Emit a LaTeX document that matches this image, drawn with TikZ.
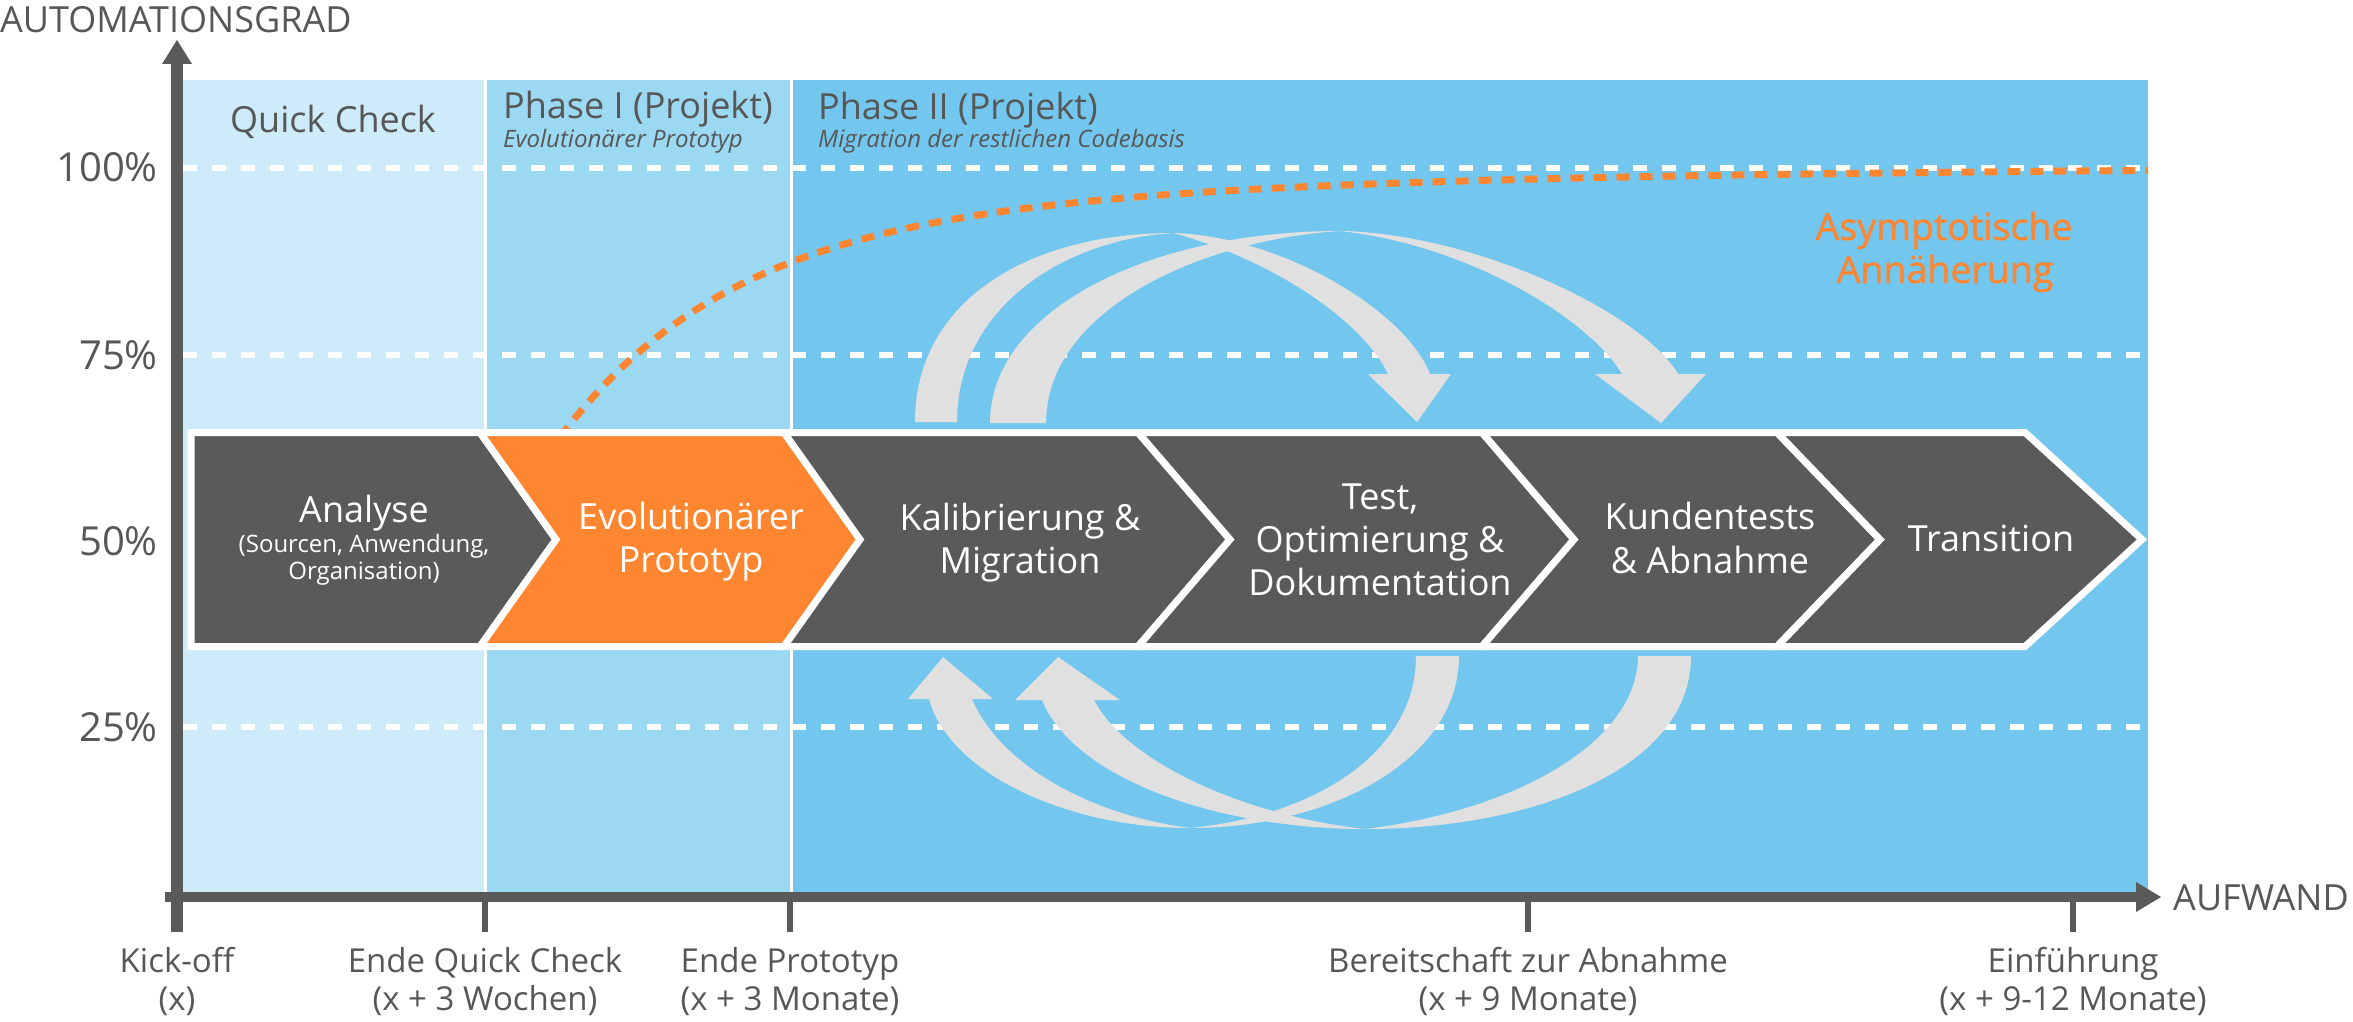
\documentclass[tikz,border=0pt]{standalone}
\usepackage{fontspec}
\setmainfont{Open Sans}
\newfontfamily\orfont[FakeBold=1.2]{Open Sans}
\definecolor{qcbg}{HTML}{CDEBF8}
\definecolor{pibg}{HTML}{9BD8F2}
\definecolor{piibg}{HTML}{73C7EE}
\definecolor{darkchev}{HTML}{5A5A5A}
\definecolor{orangec}{HTML}{FF8631}
\definecolor{arrowgray}{HTML}{E0E0E0}
\definecolor{txtgray}{HTML}{575757}
\definecolor{axisgray}{HTML}{5A5A5A}
\begin{document}
\begin{tikzpicture}[x=1pt,y=-1pt,
  lbl/.style={font=\fontsize{33}{40}\selectfont, text=txtgray, inner sep=0pt, anchor=base},
  pct/.style={font=\fontsize{40}{48}\selectfont, text=txtgray, inner sep=0pt, anchor=base east},
  chevtxt/.style={font=\fontsize{36}{43}\selectfont, text=white, inner sep=0pt, anchor=base},
  chevsub/.style={font=\fontsize{24}{28}\selectfont, text=white, inner sep=0pt, anchor=base},
  phasetxt/.style={font=\fontsize{36}{42}\selectfont, text=txtgray, inner sep=0pt, anchor=base west},
  phasesub/.style={font=\fontsize{24}{28}\selectfont\itshape, text=txtgray, inner sep=0pt, anchor=base west},
  axistxt/.style={font=\fontsize{36}{42}\selectfont, text=txtgray, inner sep=0pt, anchor=base west},
  asytxt/.style={font=\fontsize{37.5}{45}\selectfont\orfont, text=orangec, inner sep=0pt, anchor=base},
  gridline/.style={white, line width=6pt, dash pattern=on 14pt off 15pt},
  chevbox/.style={draw=white, line width=7pt, line join=miter},
  bigarrow/.style={fill=arrowgray},
  axisline/.style={draw=axisgray},
  axishead/.style={fill=axisgray}]
\useasboundingbox (0,0) rectangle (2353,1022);
% backgrounds
\fill[qcbg] (183,80) rectangle (484,897);
\fill[pibg] (487,80) rectangle (790,897);
\fill[piibg] (793,80) rectangle (2148,897);
% dashed grid lines
\draw[gridline] (183,168) -- (2148,168);
\draw[gridline] (183,355) -- (2148,355);
\draw[gridline] (183,727) -- (2148,727);
% asymptotic curve
\draw[orangec, line width=7pt, dash pattern=on 13pt off 10pt]
  plot[domain=560:2148, samples=120, smooth] (\x, {166+200*exp(-(\x-567)/170)+62*exp(-(\x-567)/600)});
% big curved arrows (upper)
\fill[bigarrow] (915,422) .. controls (915,300) and (1030,233) .. (1173,233)
  .. controls (1280,236) and (1405,310) .. (1430,374)
  -- (1451,374) -- (1417,422) -- (1368,374) -- (1388,374)
  .. controls (1365,325) and (1280,262) .. (1173,233)
  .. controls (1060,240) and (957,310) .. (957,422) -- cycle;
\fill[bigarrow] (990,423) .. controls (990,310) and (1150,231) .. (1340,231)
  .. controls (1470,233) and (1640,310) .. (1678,374)
  -- (1706,374) -- (1661,423) -- (1595,374) -- (1622,374)
  .. controls (1590,320) and (1470,245) .. (1340,231)
  .. controls (1200,240) and (1046,310) .. (1046,423) -- cycle;
% big curved arrows (lower)
\fill[bigarrow] (1459,656) .. controls (1459,760) and (1330,828) .. (1190,828)
  .. controls (1070,828) and (950,775) .. (929,699)
  -- (908,699) -- (943,657) -- (993,699) -- (972,699)
  .. controls (1000,765) and (1090,815) .. (1190,828)
  .. controls (1320,815) and (1416,750) .. (1416,656) -- cycle;
\fill[bigarrow] (1691,656) .. controls (1691,770) and (1530,829) .. (1365,829)
  .. controls (1220,829) and (1075,780) .. (1042,700)
  -- (1015,700) -- (1058,657) -- (1120,700) -- (1094,700)
  .. controls (1125,760) and (1240,815) .. (1365,829)
  .. controls (1520,810) and (1638,740) .. (1638,656) -- cycle;
% chevrons
\filldraw[chevbox, fill=darkchev] (191,432.5) -- (480,432.5) -- (556,539.5) -- (480,646.5) -- (191,646.5) -- cycle;
\filldraw[chevbox, fill=orangec] (480,432.5) -- (784,432.5) -- (860,539.5) -- (784,646.5) -- (480,646.5) -- (556,539.5) -- cycle;
\filldraw[chevbox, fill=darkchev] (784,432.5) -- (1138,432.5) -- (1230,539.5) -- (1138,646.5) -- (784,646.5) -- (860,539.5) -- cycle;
\filldraw[chevbox, fill=darkchev] (1138,432.5) -- (1482,432.5) -- (1574,539.5) -- (1482,646.5) -- (1138,646.5) -- (1230,539.5) -- cycle;
\filldraw[chevbox, fill=darkchev] (1482,432.5) -- (1777,432.5) -- (1880,539.5) -- (1777,646.5) -- (1482,646.5) -- (1574,539.5) -- cycle;
\filldraw[chevbox, fill=darkchev] (1777,432.5) -- (2025,432.5) -- (2142,539.5) -- (2025,646.5) -- (1777,646.5) -- (1880,539.5) -- cycle;
% chevron texts
\node[chevtxt] (ana) at (364,522) {Analyse};
\node[chevsub] (anb) at (364,552) {(Sourcen, Anwendung,};
\node[chevsub] (anc) at (364,579) {Organisation)};
\node[chevtxt] (evoa) at (691,529) {Evolutionärer};
\node[chevtxt] (evob) at (691,572) {Prototyp};
\node[chevtxt] (kala) at (1020,530) {Kalibrierung \&};
\node[chevtxt] (kalb) at (1020,573) {Migration};
\node[chevtxt] (testa) at (1380,509) {Test,};
\node[chevtxt] (testb) at (1380,552) {Optimierung \&};
\node[chevtxt] (testc) at (1380,595) {Dokumentation};
\node[chevtxt] (kuna) at (1710,529) {Kundentests};
\node[chevtxt] (kunb) at (1710,573) {\& Abnahme};
\node[chevtxt] (tra) at (1991,551) {Transition};
% phase labels
\node[font=\fontsize{36}{42}\selectfont, text=txtgray, inner sep=0pt, anchor=base] (qc) at (333,132) {Quick Check};
\node[phasetxt] (p1) at (503,119) {Phase I (Projekt)};
\node[phasesub] (p1s) at (503,148) {Evolutionärer Prototyp};
\node[phasetxt] (p2) at (818,120) {Phase II (Projekt)};
\node[phasesub] (p2s) at (818,148) {Migration der restlichen Codebasis};
\node[asytxt] (asa) at (1944,240) {Asymptotische};
\node[asytxt] (asb) at (1945,283) {Annäherung};
% percentages
\node[pct] (p100) at (158,182) {100\%};
\node[pct] (p75) at (158,369.5) {75\%};
\node[pct] (p50) at (158,555.5) {50\%};
\node[pct] (p25) at (158,741.5) {25\%};
% axes
\draw[axisline, line width=12pt] (177,932) -- (177,62);
\fill[axishead] (162,64) -- (177,40) -- (192,64) -- cycle;
\draw[axisline, line width=10pt] (165,897) -- (2137,897);
\fill[axishead] (2136,882) -- (2161,897) -- (2136,912) -- cycle;
\draw[axisline, line width=6pt] (485,897) -- (485,932);
\draw[axisline, line width=6pt] (790,897) -- (790,932);
\draw[axisline, line width=6pt] (1528,897) -- (1528,932);
\draw[axisline, line width=6pt] (2073,897) -- (2073,932);
\node[axistxt] (ylab) at (0,33) {AUTOMATIONSGRAD};
\node[axistxt] (xlab) at (2173,910) {AUFWAND};
% milestone labels
\node[lbl] (m1a) at (177,972) {Kick-off};
\node[lbl] (m1b) at (177,1010) {(x)};
\node[lbl] (m2a) at (485,972) {Ende Quick Check};
\node[lbl] (m2b) at (485,1010) {(x + 3 Wochen)};
\node[lbl] (m3a) at (790,972) {Ende Prototyp};
\node[lbl] (m3b) at (790,1010) {(x + 3 Monate)};
\node[lbl] (m4a) at (1528,972) {Bereitschaft zur Abnahme};
\node[lbl] (m4b) at (1528,1010) {(x + 9 Monate)};
\node[lbl] (m5a) at (2073,972) {Einführung};
\node[lbl] (m5b) at (2073,1010) {(x + 9-12 Monate)};
\end{tikzpicture}
\end{document}
